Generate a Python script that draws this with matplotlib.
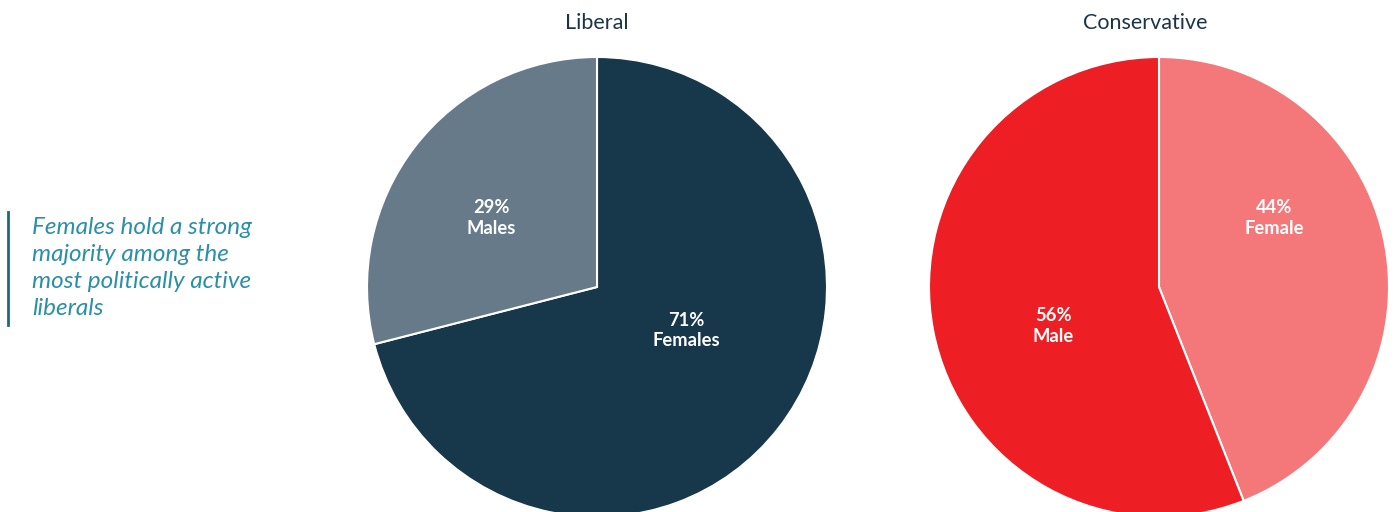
import matplotlib
matplotlib.use("Agg")
import matplotlib.pyplot as plt

plt.rcParams['font.family'] = ['Lato', 'DejaVu Sans']

# Share of politically active people by gender
lib_labels = ["Females", "Males"]
lib_values = [71, 29]
lib_colors = ["#17374b", "#667a8a"]

con_labels = ["Female", "Male"]
con_values = [44, 56]
con_colors = ["#f4787a", "#ed1f24"]

note = "Females hold a strong\nmajority among the\nmost politically active\nliberals"

W, H = 1394, 512
fig = plt.figure(figsize=(W / 100, H / 100), dpi=100)


def pie_axes(cx, cy, r):
    return fig.add_axes([(cx - r) / W, (H - cy - r) / H, 2 * r / W, 2 * r / H])


def draw_pie(ax, values, colors, labels, label_pos, title, title_x):
    ax.pie(values, colors=colors, startangle=90, counterclock=False,
           wedgeprops=dict(edgecolor="white", linewidth=1.5))
    ax.set_xlim(-1, 1)
    ax.set_ylim(-1, 1)
    ax.set_aspect("equal")
    for v, lab, (x, y) in zip(values, labels, label_pos):
        ax.text(x, y, f"{v}%\n{lab}", ha="center", va="center", color="white",
                fontsize=13.2, fontweight="bold", linespacing=1.25)
    fig.text(title_x / W, 1 - 23 / H, title, ha="center", va="center",
             fontsize=15.5, color="#1d3448")


ax1 = pie_axes(597, 287, 230)
draw_pie(ax1, lib_values, lib_colors, lib_labels,
         [(0.39, -0.19), (-0.46, 0.30)], "Liberal", 597)

ax2 = pie_axes(1159, 287, 230)
draw_pie(ax2, con_values, con_colors, con_labels,
         [(0.50, 0.30), (-0.46, -0.17)], "Conservative", 1145)

# Side note with accent bar
fig.add_artist(plt.Line2D([8 / W, 8 / W], [1 - 212 / H, 1 - 325 / H],
                          color="#1b6a7c", linewidth=2))
fig.text(32 / W, 1 - 268 / H, note, ha="left", va="center", fontsize=17.5,
         style="italic", color="#2a8fa8", linespacing=1.37)

fig.savefig("out.png", dpi=100)
